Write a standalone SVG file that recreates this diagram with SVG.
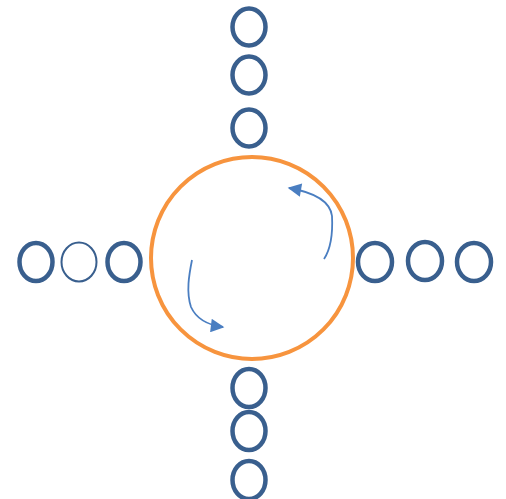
<svg xmlns="http://www.w3.org/2000/svg" width="506" height="499" viewBox="0 0 506 499">
<style>
.r{fill:none;stroke:#395F8E;stroke-width:4.5}
.t{fill:none;stroke:#395F8E;stroke-width:2}
.big{fill:none;stroke:#F7943E;stroke-width:4}
.a{fill:none;stroke:#4A7EC1;stroke-width:1.8;marker-end:url(#ah)}
</style>
<defs>
<marker id="ah" viewBox="0 0 10 10" refX="9" refY="5" markerWidth="8.5" markerHeight="7.5" orient="auto" markerUnits="strokeWidth">
<path d="M0,0 L10,5 L0,10 Z" fill="#4A7EC1"/>
</marker>
</defs>
<g id="ring"><circle class="big" cx="252" cy="258" r="101"/></g>
<g id="top1"><ellipse class="r" cx="249" cy="27" rx="16.5" ry="18.5"/></g>
<g id="top2"><ellipse class="r" cx="249" cy="75" rx="16.5" ry="18.5"/></g>
<g id="top3"><ellipse class="r" cx="249" cy="128" rx="16.5" ry="18.5"/></g>
<g id="left1"><ellipse class="r" cx="36" cy="262" rx="16.5" ry="19"/></g>
<g id="left2"><ellipse class="t" cx="79" cy="262" rx="17.5" ry="19.5"/></g>
<g id="left3"><ellipse class="r" cx="124" cy="262" rx="16.5" ry="19"/></g>
<g id="right1"><ellipse class="r" cx="375" cy="262" rx="17" ry="19"/></g>
<g id="right2"><ellipse class="r" cx="425" cy="261" rx="17" ry="19"/></g>
<g id="right3"><ellipse class="r" cx="474" cy="262" rx="17" ry="19"/></g>
<g id="bottom1"><ellipse class="r" cx="249" cy="388" rx="16.5" ry="19"/></g>
<g id="bottom2"><ellipse class="r" cx="249" cy="431" rx="16.5" ry="19"/></g>
<g id="bottom3"><ellipse class="r" cx="249" cy="480" rx="16.5" ry="19"/></g>
<g id="connectors">
<path class="a" d="M324,259 C330,250 333,236 332,216 C330,200 312,192 289,188"/>
<path class="a" d="M192,260 C189,275 186,292 191,307 C196,318 207,325 223,327"/>
</g>
</svg>
